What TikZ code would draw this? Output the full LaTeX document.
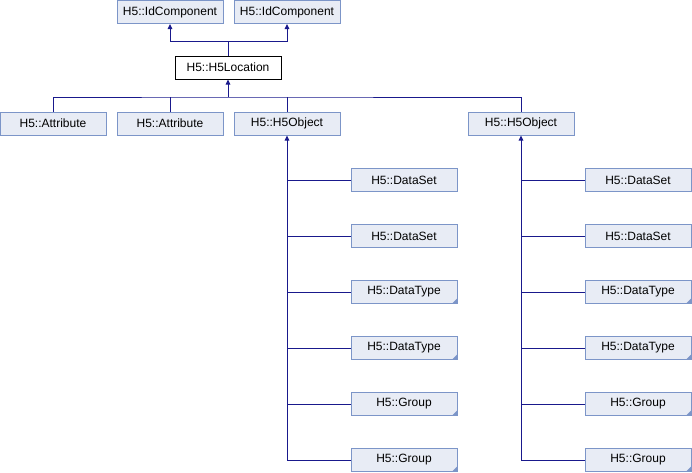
\documentclass[tikz,border=0pt]{standalone}
\usepackage{fontspec}
\setmainfont{Liberation Sans}
\usetikzlibrary{arrows.meta}
\definecolor{edgeblue}{RGB}{25,25,140}
\definecolor{boxborder}{RGB}{124,149,200}
\definecolor{boxfill}{RGB}{232,236,245}
\tikzset{
  cls/.style={draw=boxborder, fill=boxfill, line width=1pt, minimum width=106pt,
    minimum height=23pt, inner sep=0pt, font=\fontsize{12}{14}\selectfont},
  main/.style={cls, draw=black, fill=white},
  trunc/.style={cls, path picture={
      \fill[boxborder] ([xshift=-5pt]path picture bounding box.south east)
        -- (path picture bounding box.south east)
        -- ([yshift=5pt]path picture bounding box.south east) -- cycle;}},
  link/.style={draw=edgeblue, line width=1pt},
  inh/.style={link, -{Triangle[length=5pt,width=4.5pt]}},
}
\begin{document}
\begin{tikzpicture}[x=1pt,y=-1pt]
\useasboundingbox (0,0) rectangle (692,472);

% base classes
\node[cls] (id1) at (170,12) {H5::IdComponent};
\node[cls] (id2) at (287,12) {H5::IdComponent};
\node[main] (loc) at (228,67.5) {H5::H5Location};

% direct subclasses
\node[cls] (attr1) at (53,123.5) {H5::Attribute};
\node[cls] (attr2) at (170,123.5) {H5::Attribute};
\node[cls] (obj1) at (287,123.5) {H5::H5Object};
\node[cls] (obj2) at (521,123.5) {H5::H5Object};

% subclasses of H5Object (left branch)
\node[cls]   (la) at (404,180) {H5::DataSet};
\node[cls]   (lb) at (404,236) {H5::DataSet};
\node[trunc] (lc) at (404,292) {H5::DataType};
\node[trunc] (ld) at (404,348) {H5::DataType};
\node[trunc] (le) at (404,404) {H5::Group};
\node[trunc] (lf) at (404,460) {H5::Group};

% subclasses of H5Object (right branch)
\node[cls]   (ra) at (638,180) {H5::DataSet};
\node[cls]   (rb) at (638,236) {H5::DataSet};
\node[trunc] (rc) at (638,292) {H5::DataType};
\node[trunc] (rd) at (638,348) {H5::DataType};
\node[trunc] (re) at (638,404) {H5::Group};
\node[trunc] (rf) at (638,460) {H5::Group};

% H5Location -> IdComponent
\coordinate (j1) at (228,41);
\draw[link] (loc.north) -- (j1);
\draw[inh] (j1) -| (id1.south);
\draw[inh] (j1) -| (id2.south);

% subclasses -> H5Location
\coordinate (j2) at (228,97);
\draw[inh] (j2) -- (loc.south);
\draw[link] (attr1.north) |- (j2) -| (obj2.north);
\draw[link] (attr2.north) -- (attr2.north |- j2);
\draw[link] (obj1.north) -- (obj1.north |- j2);

% left branch -> H5Object
\draw[inh] (obj1.south |- lf.west) -- (obj1.south);
\foreach \c in {la,lb,lc,ld,le,lf}
  \draw[link] (\c.west) -- (\c.west -| obj1.south);

% right branch -> H5Object
\draw[inh] (obj2.south |- rf.west) -- (obj2.south);
\foreach \c in {ra,rb,rc,rd,re,rf}
  \draw[link] (\c.west) -- (\c.west -| obj2.south);
\end{tikzpicture}
\end{document}
